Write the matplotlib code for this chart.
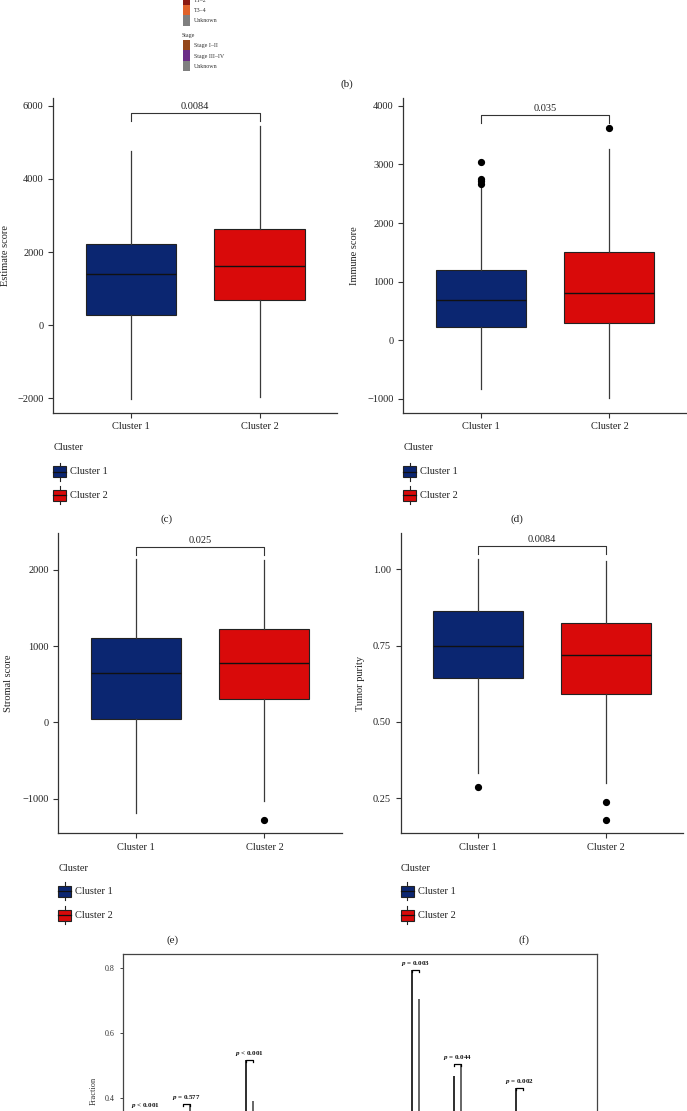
import matplotlib
matplotlib.use("Agg")
import matplotlib.pyplot as plt
from matplotlib.patches import Rectangle

plt.rcParams['font.family'] = ['Liberation Serif', 'DejaVu Serif']
plt.rcParams['mathtext.fontset'] = 'custom'
plt.rcParams['mathtext.it'] = 'Liberation Serif:italic:bold'
plt.rcParams['mathtext.rm'] = 'Liberation Serif:bold'

# DATOS
clusters = ['Cluster 1', 'Cluster 2']
cluster_colors = ['#0b2671', '#d90a0a']

# resumen de cajas: whislo, q1, mediana, q3, whishi
estimate_c1 = [-2005, 275, 1390, 2230, 4750]
estimate_c2 = [-1950, 690, 1630, 2630, 5430]
immune_c1 = [-840, 230, 685, 1195, 2620]
immune_c2 = [-995, 300, 805, 1505, 3260]
immune_out_c1 = [3040, 2750, 2710, 2660]
immune_out_c2 = [3615]
stromal_c1 = [-1185, 50, 645, 1100, 2135]
stromal_c2 = [-1030, 300, 775, 1228, 2130]
stromal_out_c2 = [-1280]
purity_c1 = [0.334, 0.645, 0.749, 0.865, 1.033]
purity_c2 = [0.299, 0.593, 0.720, 0.823, 1.028]
purity_out_c1 = [0.288]
purity_out_c2 = [0.238, 0.180]

pvals = ['0.0084', '0.035', '0.025', '0.0084']
bracket_heights = [5790, 3850, 2300, 1.075]

# leyenda superior (panel b, recortado)
t_labels = ['T1–2', 'T3–4', 'Unknown']
t_colors = ['#8c1a12', '#e0622a', '#7f7f7f']
stage_labels = ['Stage I–II', 'Stage III–IV', 'Unknown']
stage_colors = ['#93461a', '#6b2d86', '#7f7f7f']

# panel inferior (fracciones inmunes, recortado)
cell_pos = [1, 3, 6, 14, 16, 19]
p_labels = [r'$p$ < 0.001', r'$p$ = 0.577', r'$p$ < 0.001',
            r'$p$ = 0.003', r'$p$ = 0.044', r'$p$ = 0.002']
bracket_g = [0.357, 0.380, 0.517, 0.795, 0.504, 0.429]
top_c1 = [0.34, 0.33, 0.517, 0.795, 0.467, 0.429]
top_c2 = [0.30, 0.380, 0.388, 0.704, 0.504, 0.33]

W, H = 687, 1111
fig = plt.figure(figsize=(W / 100, H / 100), dpi=100)


def rect_px(x0, x1, y0, y1):
    return [x0 / W, 1 - y1 / H, (x1 - x0) / W, (y1 - y0) / H]


def box_panel(rect, c1, c2, out1, out2, ylim, ticks, tlabels, ylabel, pval, ybr, ylab_x):
    ax = fig.add_axes(rect)
    stats = []
    for s, o in ((c1, out1), (c2, out2)):
        stats.append(dict(whislo=s[0], q1=s[1], med=s[2], q3=s[3], whishi=s[4], fliers=o))
    bp = ax.bxp(stats, positions=[1, 2], widths=0.7, patch_artist=True, showcaps=False,
                boxprops=dict(edgecolor='#222222', linewidth=0.8),
                whiskerprops=dict(color='#3a3a3a', linewidth=0.9),
                medianprops=dict(color='#111111', linewidth=1.0),
                flierprops=dict(marker='o', markerfacecolor='black', markeredgecolor='black',
                                markersize=4.2))
    for patch, col in zip(bp['boxes'], cluster_colors):
        patch.set_facecolor(col)
    ax.set_xlim(0.4, 2.6)
    ax.set_ylim(*ylim)
    ax.set_xticks([1, 2])
    ax.set_xticklabels(clusters)
    ax.set_yticks(ticks)
    ax.set_yticklabels(tlabels)
    for s in ['top', 'right']:
        ax.spines[s].set_visible(False)
    for s in ['left', 'bottom']:
        ax.spines[s].set_color('#333333')
        ax.spines[s].set_linewidth(0.9)
    ax.tick_params(length=3.5, width=0.8, color='#333333', labelsize=7.5, labelcolor='#222222')
    ax.set_ylabel(ylabel, fontsize=7.5, color='#222222')
    ax.yaxis.set_label_coords(ylab_x, 0.5)
    # corchete de significancia
    h_px = rect[3] * H
    tip = 8 / h_px * (ylim[1] - ylim[0])
    ax.plot([1, 1, 2, 2], [ybr - tip, ybr, ybr, ybr - tip], color='#333333', lw=0.8)
    ax.text(1.5, ybr + tip * 0.25, pval, ha='center', va='bottom', fontsize=7.5, color='#222222')
    return ax


box_panel(rect_px(53.3, 337, 98.3, 412.7), estimate_c1, estimate_c2, [], [],
          (-2390, 6200), [-2000, 0, 2000, 4000, 6000],
          ['−2000', '0', '2000', '4000', '6000'], 'Estimate score', pvals[0], bracket_heights[0], -0.153)
box_panel(rect_px(403.3, 686.7, 98.3, 412.7), immune_c1, immune_c2, immune_out_c1, immune_out_c2,
          (-1240, 4130), [-1000, 0, 1000, 2000, 3000, 4000],
          ['−1000', '0', '1000', '2000', '3000', '4000'], 'Immune score', pvals[1], bracket_heights[1], -0.155)
box_panel(rect_px(58.3, 341.7, 533.3, 833.3), stromal_c1, stromal_c2, [], stromal_out_c2,
          (-1454, 2477), [-1000, 0, 1000, 2000],
          ['−1000', '0', '1000', '2000'], 'Stromal score', pvals[2], bracket_heights[2], -0.159)
box_panel(rect_px(400.7, 683, 533.3, 833.3), purity_c1, purity_c2, purity_out_c1, purity_out_c2,
          (0.135, 1.118), [0.25, 0.50, 0.75, 1.00],
          ['0.25', '0.50', '0.75', '1.00'], 'Tumor purity', pvals[3], bracket_heights[3], -0.126)

# PANEL INFERIOR (g), recortado por abajo
axg = fig.add_axes(rect_px(123.3, 596.7, 954, 1227))
axg.set_xlim(-0.05, 22.7)
axg.set_ylim(0, 0.844)
d = 0.16
for pos, t1, t2 in zip(cell_pos, top_c1, top_c2):
    axg.vlines(pos - d, 0, t1, color='#1e1e1e', lw=1.3)
    axg.vlines(pos + d, 0, t2, color='#5a5a5a', lw=1.3)
for pos, by, lab in zip(cell_pos, bracket_g, p_labels):
    axg.plot([pos - d, pos - d, pos + d, pos + d], [by - 0.006, by, by, by - 0.006],
             color='black', lw=0.9)
    axg.text(pos, by + 0.006, lab, ha='center', va='bottom', fontsize=5,
             fontweight='bold', color='#111111')
axg.set_xticks([])
# solo las marcas visibles dentro de la imagen
axg.set_yticks([0.4, 0.6, 0.8])
axg.set_yticklabels(['0.4', '0.6', '0.8'])
axg.tick_params(length=2.5, width=0.7, color='#444444', labelsize=5.8, labelcolor='#333333')
for s in axg.spines.values():
    s.set_color('#444444')
    s.set_linewidth(0.9)
axg.set_ylabel('Fraction', fontsize=6, color='#333333')
axg.yaxis.set_label_coords(-0.055, 0.5)

# CAPA DE LEYENDAS Y ETIQUETAS (coordenadas en pixeles)
lay = fig.add_axes([0, 0, 1, 1], zorder=5)
lay.set_xlim(0, W)
lay.set_ylim(H, 0)
lay.axis('off')
lay.patch.set_alpha(0)

# leyenda superior
for i, (lab, col) in enumerate(zip(t_labels, t_colors)):
    y0 = -6 + i * 10.5
    lay.add_patch(Rectangle((183, y0), 7, 10.5, fc=col, ec='none'))
    lay.text(194, y0 + 6, lab, fontsize=4.3, va='center', ha='left', color='#333333')
lay.text(182, 36, 'Stage', fontsize=4.3, va='center', ha='left', color='#333333')
for i, (lab, col) in enumerate(zip(stage_labels, stage_colors)):
    y0 = 40 + i * 10.3
    lay.add_patch(Rectangle((183, y0), 7, 10.3, fc=col, ec='none'))
    lay.text(194, y0 + 6, lab, fontsize=4.3, va='center', ha='left', color='#333333')


def cluster_legend(x0, y_title, y_keys):
    lay.text(x0, y_title, 'Cluster', fontsize=7.5, va='center', ha='left', color='#222222')
    for yk, col, name in zip(y_keys, cluster_colors, clusters):
        lay.add_patch(Rectangle((x0, yk - 5.5), 13, 11, fc=col, ec='#222222', lw=0.8))
        lay.plot([x0 + 6.5, x0 + 6.5], [yk - 9, yk - 5.5], color='#222222', lw=0.8)
        lay.plot([x0 + 6.5, x0 + 6.5], [yk + 5.5, yk + 9], color='#222222', lw=0.8)
        lay.plot([x0, x0 + 13], [yk, yk], color='#111111', lw=0.9)
        lay.text(x0 + 17, yk, name, fontsize=7.5, va='center', ha='left', color='#222222')


cluster_legend(53.3, 447.7, [471.7, 495])
cluster_legend(403.3, 447.7, [471.7, 495])
cluster_legend(58.3, 868.3, [891, 915])
cluster_legend(400.7, 868.3, [891, 915])

# etiquetas de panel
for lab, x, y in [('(b)', 347, 84), ('(c)', 167, 519), ('(d)', 517, 519),
                  ('(e)', 173, 940), ('(f)', 524, 940)]:
    lay.text(x, y, lab, fontsize=8, ha='center', va='center', color='#222222')

fig.savefig('out.png', dpi=100)
